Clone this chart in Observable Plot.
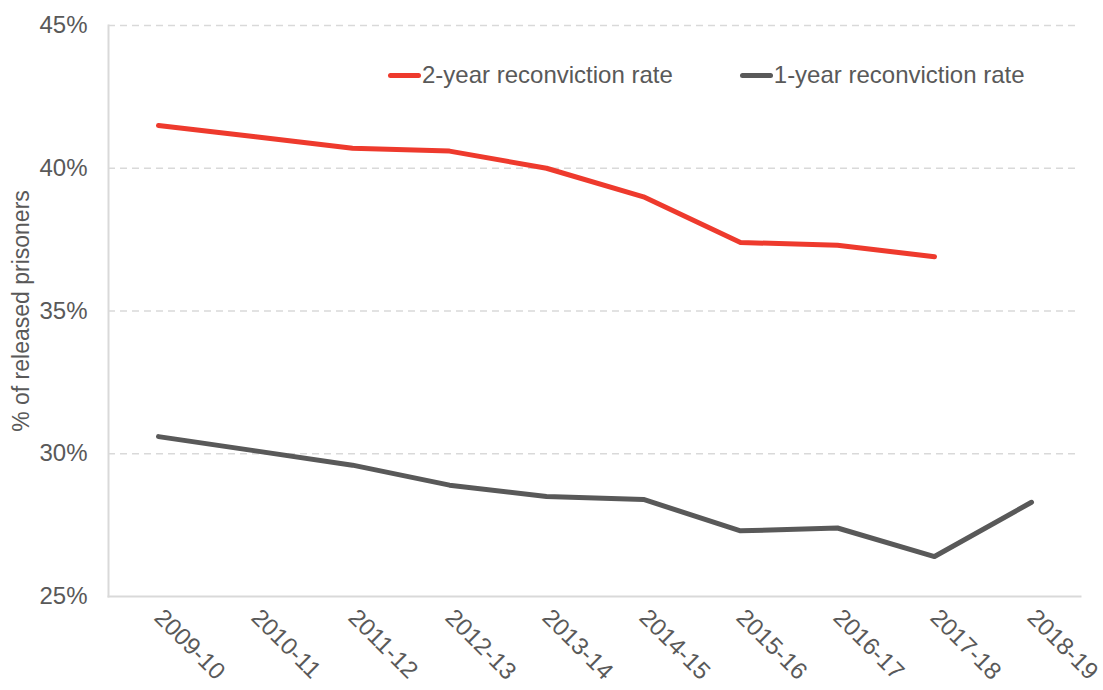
<!DOCTYPE html>
<html>
<head>
<meta charset="utf-8">
<script src="https://cdn.jsdelivr.net/npm/d3@7"></script>
<script src="https://cdn.jsdelivr.net/npm/@observablehq/plot@0.6"></script>
<style>
  body { margin: 0; background: #fff; }
  #wrap { position: relative; width: 1103px; height: 690px; font-family: "Liberation Sans", Arial, sans-serif; color: #595959; }
  #legend { position: absolute; left: 388px; top: 59px; display: flex; align-items: center; gap: 67px; font-size: 24px; line-height: 32px; }
  .item { display: flex; align-items: center; }
  .sw { width: 33px; height: 5px; border-radius: 3px; margin-right: 1px; }
</style>
</head>
<body>
<div id="wrap"><div id="legend"></div></div>
<script>
const years = ["2009-10","2010-11","2011-12","2012-13","2013-14","2014-15","2015-16","2016-17","2017-18","2018-19"];
const twoYear = [41.5, 41.1, 40.7, 40.6, 40.0, 39.0, 37.4, 37.3, 36.9];
const oneYear = [30.6, 30.1, 29.6, 28.9, 28.5, 28.4, 27.3, 27.4, 26.4, 28.3];
const seriesNames = ["2-year reconviction rate", "1-year reconviction rate"];
const seriesColors = ["#EE3A2D", "#595959"];
const yTicks = [25, 30, 35, 40, 45];
const gridTicks = [30, 35, 40, 45];
const yLabel = "% of released prisoners";

const data = [];
twoYear.forEach((v, i) => data.push({year: years[i], value: v, series: seriesNames[0]}));
oneYear.forEach((v, i) => data.push({year: years[i], value: v, series: seriesNames[1]}));

const chart = Plot.plot({
  width: 1103,
  height: 690,
  marginLeft: 108,
  marginRight: 23,
  marginTop: 25,
  marginBottom: 94,
  style: {fontFamily: "'Liberation Sans', Arial, sans-serif", fontSize: "24px", color: "#595959", background: "#fff"},
  x: {type: "point", domain: years, padding: 0.5},
  y: {domain: [25, 45]},
  color: {domain: seriesNames, range: seriesColors},
  marks: [
    Plot.gridY(gridTicks, {stroke: "#d9d9d9", strokeOpacity: 1, strokeWidth: 1.5, strokeDasharray: "7,5"}),
    Plot.frame({anchor: "left", stroke: "#d9d9d9", strokeWidth: 2}),
    Plot.frame({anchor: "bottom", stroke: "#d9d9d9", strokeWidth: 2}),
    Plot.axisY({ticks: yTicks, tickFormat: d => d + "%", tickSize: 0, tickPadding: 21, fill: "#595959",
      label: null, fontSize: 24}),
    Plot.axisY({ticks: [], label: yLabel, labelAnchor: "center", labelOffset: 96, labelArrow: "none", fontSize: 23, fill: "#595959"}),
    Plot.axisX({tickRotate: 45, tickSize: 0, tickPadding: 17, fill: "#595959", label: null, fontSize: 24}),
    Plot.line(data, {x: "year", y: "value", z: "series", stroke: "series", strokeWidth: 5, strokeLinecap: "round", strokeLinejoin: "round"})
  ]
});
document.getElementById("wrap").appendChild(chart);

const legend = document.getElementById("legend");
seriesNames.forEach((name, i) => {
  const it = document.createElement("div");
  it.className = "item";
  const sw = document.createElement("span");
  sw.className = "sw";
  sw.style.background = seriesColors[i];
  const t = document.createElement("span");
  t.textContent = name;
  it.appendChild(sw); it.appendChild(t);
  legend.appendChild(it);
});
</script>
</body>
</html>
